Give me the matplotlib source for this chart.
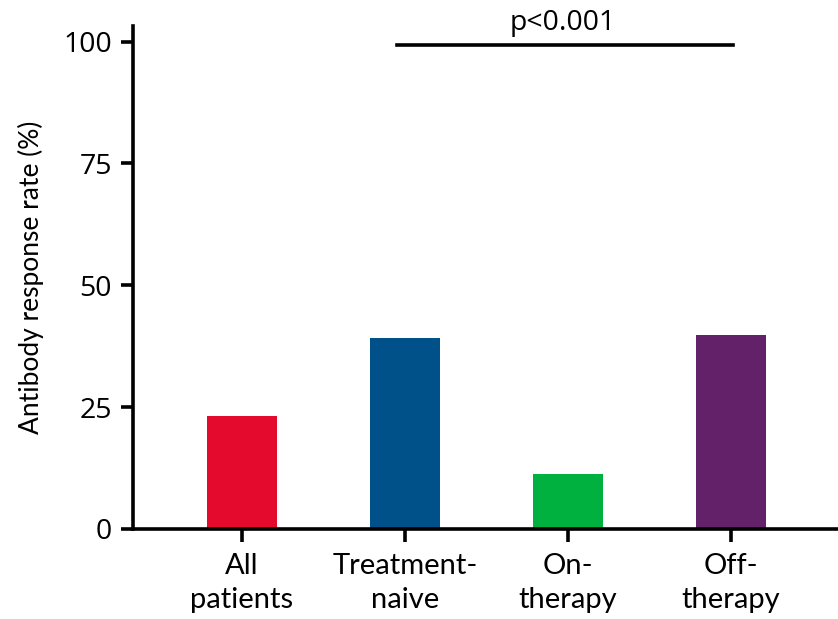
import matplotlib.pyplot as plt

# 数据
categories = ['All\npatients', 'Treatment-\nnaive', 'On-\ntherapy', 'Off-\ntherapy']
response_rate = [23.2, 39.2, 11.3, 39.8]
bar_colors = ['#E30A2E', '#005189', '#00B140', '#63216A']
y_ticks = [0, 25, 50, 75, 100]
sig_text = 'p<0.001'

fig = plt.figure(figsize=(8.38, 6.19), dpi=100)
ax = fig.add_axes([0.1587, 0.1454, 0.8413, 0.8126])

x = range(len(categories))
ax.bar(x, response_rate, width=0.43, color=bar_colors)

ax.set_xlim(-0.669, 3.656)
ax.set_ylim(0, 103.2)
ax.set_yticks(y_ticks)
ax.set_yticklabels([str(t) for t in y_ticks], family='Open Sans', fontsize=20.5)
ax.set_xticks(list(x))
ax.set_xticklabels(categories, family='Lato', fontsize=21, linespacing=1.4)

for side in ['top', 'right']:
    ax.spines[side].set_visible(False)
for side in ['left', 'bottom']:
    ax.spines[side].set_linewidth(2.6)
ax.tick_params(axis='both', width=2.6, length=9, pad=6)
ax.tick_params(axis='x', pad=8)

ax.set_ylabel('Antibody response rate (%)', family='Lato', fontsize=19, labelpad=14)

# 显著性标注
ax.plot([0.95, 3.01], [99.2, 99.2], color='black', lw=2.6, clip_on=False)
ax.text(1.97, 101.0, sig_text, ha='center', va='bottom', family='Open Sans',
        fontsize=20.5)

fig.savefig('out.png', dpi=100)
